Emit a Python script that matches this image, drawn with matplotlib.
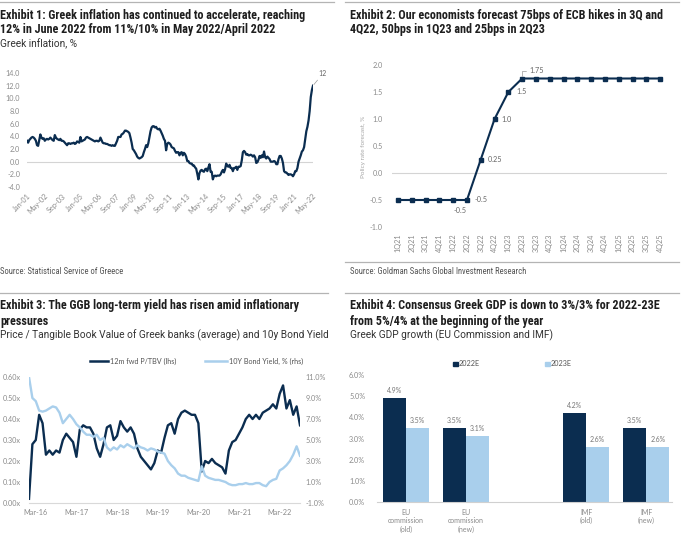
import matplotlib
matplotlib.use('Agg')
import matplotlib.pyplot as plt
from matplotlib.patches import Rectangle
import numpy as np

W, H = 694, 539
DARK = '#0b2d50'
LIGHT = '#a9cfec'
GRAY = '#8a8a8a'
RULE = '#b4b4b4'
TITLE_FONT = ['Roboto Condensed', 'Archivo Narrow', 'Liberation Sans Narrow', 'Roboto', 'DejaVu Sans']
BODY_FONT = ['Roboto', 'DejaVu Sans']
plt.rcParams['font.family'] = ['Lato', 'DejaVu Sans']

# ---- Exhibit 1: Greek inflation, monthly Jan-01 .. Jun-22
y2001 = [3.3, 3.0, 3.4, 3.6, 3.8, 3.9, 3.8, 3.6, 3.3, 2.6, 2.5, 3.4]
y2002 = [4.3, 3.8, 3.6, 3.7, 3.3, 3.5, 3.6, 3.5, 3.6, 3.8, 3.6, 3.4]
y2003 = [3.3, 4.2, 3.8, 3.6, 3.5, 3.4, 3.6, 3.3, 3.3, 3.2, 3.0, 2.8]
y2004 = [2.6, 2.9, 2.9, 2.8, 2.9, 2.9, 3.0, 2.8, 2.9, 3.2, 3.1, 3.0]
y2005 = [3.9, 3.2, 3.3, 3.4, 3.5, 3.8, 3.9, 3.8, 3.7, 3.6, 3.5, 3.4]
y2006 = [3.3, 3.2, 3.3, 3.3, 3.2, 3.3, 3.8, 3.4, 3.0, 2.9, 2.9, 2.8]
y2007 = [2.8, 2.7, 2.6, 2.6, 2.5, 2.6, 2.5, 2.5, 2.9, 3.3, 3.9, 3.9]
y2008 = [3.9, 4.3, 4.4, 4.6, 4.9, 4.9, 4.8, 4.7, 4.5, 3.8, 3.0, 2.0]
y2009 = [1.8, 1.5, 1.2, 0.8, 0.6, 0.5, 0.6, 0.7, 0.9, 1.5, 2.0, 2.6]
y2010 = [2.3, 2.9, 3.9, 4.8, 5.4, 5.6, 5.6, 5.4, 5.5, 5.2, 5.1, 5.2]
y2011 = [4.9, 4.5, 4.1, 3.6, 3.3, 1.8, 2.8, 3.0, 2.9, 2.7, 2.3, 2.2]
y2012 = [2.1, 1.7, 1.4, 1.5, 1.5, 1.0, 1.4, 1.5, 1.0, 1.4, 1.2, 0.8]
y2013 = [0.1, 0.1, -0.2, -0.3, -0.3, -0.6, -0.6, -0.9, -1.1, -1.9, -2.8, -1.8]
y2014 = [-1.4, -1.3, -1.5, -1.6, -1.2, -1.1, -1.5, -0.9, -0.4, -1.6, -1.6, -2.8]
y2015 = [-2.3, -2.2, -2.3, -2.2, -2.2, -2.2, -2.0, -1.6, -1.3, -1.7, -1.2, -0.3]
y2016 = [-0.7, -0.8, -0.5, -1.0, -1.0, -1.5, -1.0, -1.0, -0.8, -1.3, -0.8, -0.8]
y2017 = [-0.7, 0.2, 1.5, 1.7, 1.5, 1.1, 1.2, 1.0, 1.0, 1.1, 1.0, 0.8]
y2018 = [1.0, 0.7, -0.2, -0.1, 0.3, 0.9, 0.6, 1.0, 0.7, 1.6, 0.7, 0.5]
y2019 = [0.8, 0.6, 0.4, 0.0, 0.0, 0.0, 0.1, 0.0, -0.4, -0.4, 0.4, 0.9]
y2020 = [0.9, 0.5, -0.2, -1.5, -1.7, -1.7, -1.9, -2.1, -2.0, -2.0, -2.1, -2.3]
y2021 = [-2.0, -1.5, -1.5, -1.0, 0.0, 0.5, 1.0, 1.6, 1.8, 2.3, 3.5, 4.8]
y2022 = [5.5, 6.5, 8.0, 10.2, 11.3, 12.0]
infl_ticks = ['Jan-01', 'May-02', 'Sep-03', 'Jan-05', 'May-06', 'Sep-07', 'Jan-09',
              'May-10', 'Sep-11', 'Jan-13', 'May-14', 'Sep-15', 'Jan-17', 'May-18',
              'Sep-19', 'Jan-21', 'May-22']

# ---- Exhibit 2: ECB policy rate forecast
quarters = ['1Q21', '2Q21', '3Q21', '4Q21', '1Q22', '2Q22', '3Q22', '4Q22', '1Q23', '2Q23',
            '3Q23', '4Q23', '1Q24', '2Q24', '3Q24', '4Q24', '1Q25', '2Q25', '3Q25', '4Q25']
policy_rate = [-0.5, -0.5, -0.5, -0.5, -0.5, -0.5, 0.25, 1.0, 1.5, 1.75,
               1.75, 1.75, 1.75, 1.75, 1.75, 1.75, 1.75, 1.75, 1.75, 1.75]

# ---- Exhibit 3: P/TBV and 10y yield, monthly Jan-16 .. Sep-22
p_tbv = [0.02, 0.28, 0.30, 0.42, 0.38, 0.23, 0.25, 0.23, 0.25, 0.24, 0.30, 0.33,
         0.31, 0.29, 0.22, 0.35, 0.37, 0.36, 0.36, 0.33, 0.26, 0.22, 0.28, 0.36,
         0.37, 0.30, 0.32, 0.39, 0.36, 0.34, 0.36, 0.33, 0.26, 0.22, 0.20, 0.18,
         0.16, 0.19, 0.25, 0.24, 0.31, 0.37, 0.38, 0.33, 0.40, 0.43, 0.44, 0.43,
         0.42, 0.42, 0.38, 0.15, 0.20, 0.19, 0.21, 0.19, 0.18, 0.17, 0.14, 0.25,
         0.29, 0.30, 0.33, 0.36, 0.40, 0.42, 0.40, 0.42, 0.40, 0.43, 0.44, 0.45,
         0.47, 0.45, 0.52, 0.56, 0.45, 0.49, 0.42, 0.46, 0.37]
bond_yield = [11.0, 9.0, 8.7, 7.8, 7.7, 7.8, 8.0, 8.2, 8.1, 7.6, 6.6, 7.0,
              7.4, 7.0, 6.5, 6.2, 5.8, 5.5, 5.5, 5.3, 5.5, 5.0, 5.2, 4.3,
              4.0, 4.3, 4.1, 4.5, 4.3, 4.6, 4.4, 4.2, 4.5, 4.3, 4.2, 4.0,
              4.2, 4.1, 3.9, 3.8, 3.7, 3.0, 2.6, 2.3, 1.8, 1.6, 1.6, 1.4,
              1.3, 1.2, 1.1, 2.5, 1.6, 1.4, 1.3, 1.2, 1.2, 1.1, 1.0, 0.8,
              0.7, 0.7, 0.8, 0.8, 0.9, 0.8, 0.8, 0.9, 0.9, 0.7, 0.6, 1.0,
              1.2, 1.3, 2.1, 2.3, 2.6, 3.0, 3.6, 4.4, 3.5]
year_ticks = ['Mar-16', 'Mar-17', 'Mar-18', 'Mar-19', 'Mar-20', 'Mar-21', 'Mar-22']

# ---- Exhibit 4: GDP growth forecasts
gdp_cats = ['EU\ncommission\n(old)', 'EU\ncommission\n(new)', 'IMF\n(old)', 'IMF\n(new)']
gdp_2022 = [4.9, 3.5, 4.2, 3.5]
gdp_2023 = [3.5, 3.1, 2.6, 2.6]


fig = plt.figure(figsize=(W / 100, H / 100), dpi=100)
canvas = fig.add_axes([0, 0, 1, 1])
canvas.set_xlim(0, W)
canvas.set_ylim(H, 0)
canvas.axis('off')


def px_axes(x0, y0, x1, y1):
    return fig.add_axes([x0 / W, 1 - y1 / H, (x1 - x0) / W, (y1 - y0) / H])


def clean(ax):
    for s in ax.spines.values():
        s.set_visible(False)
    ax.patch.set_visible(False)
    ax.tick_params(length=0, labelsize=5.2, labelcolor=GRAY)


def title(x, y, s):
    canvas.text(x, y, s, fontsize=8.7, fontweight='bold', family=TITLE_FONT,
                color='#1e1e1e', va='center')


def subtitle(x, y, s):
    canvas.text(x, y, s, fontsize=7.3, family=BODY_FONT, color='#333333', va='center')


def source(x, y, s):
    canvas.text(x, y, s, fontsize=6.2, family=TITLE_FONT, color='#555555', va='center')


# rules
for x0, x1, y in [(0, 334, 1.5), (345, 679, 1.5), (0, 328, 293), (345, 679, 293), (345, 679, 262)]:
    canvas.plot([x0, x1], [y, y], color=RULE, lw=0.9)

# ---------- Exhibit 1
title(0, 15, 'Exhibit 1: Greek inflation has continued to accelerate, reaching')
title(0, 30, '12% in June 2022 from 11%/10% in May 2022/April 2022')
subtitle(0, 44, 'Greek inflation, %')
source(0, 272, 'Source: Statistical Service of Greece')

infl = np.array(y2001 + y2002 + y2003 + y2004 + y2005 + y2006 + y2007 + y2008 + y2009 +
                y2010 + y2011 + y2012 + y2013 + y2014 + y2015 + y2016 + y2017 + y2018 +
                y2019 + y2020 + y2021 + y2022)
months = np.arange(len(infl))
ax1 = px_axes(27, 73, 313, 187)
clean(ax1)
ax1.axhline(0, color='#d4d4d4', lw=0.8, zorder=0)
ax1.plot(months, infl, color=DARK, lw=1.6, solid_joinstyle='round')
ax1.set_xlim(0, len(infl) - 1)
ax1.set_ylim(-4, 14)
ax1.set_yticks(np.arange(-4, 15, 2))
ax1.set_yticklabels([f'{v:.1f}' for v in np.arange(-4, 15, 2)])
ax1.set_xticks(np.arange(0, len(infl), 16))
ax1.set_xticklabels(infl_ticks, rotation=45, ha='right', rotation_mode='anchor')
ax1.tick_params(axis='y', pad=5)
ax1.tick_params(axis='x', pad=4)
ax1.annotate('12', xy=(months[-1], infl[-1]), xytext=(4, 6), textcoords='offset points',
             fontsize=5, color='#666666', va='bottom', ha='left',
             arrowprops=dict(arrowstyle='-', color='#999999', lw=0.5, shrinkA=0, shrinkB=1))

# ---------- Exhibit 2
title(350, 15, 'Exhibit 2: Our economists forecast 75bps of ECB hikes in 3Q and')
title(350, 30, '4Q22, 50bps in 1Q23 and 25bps in 2Q23')
source(350, 272, 'Source: Goldman Sachs Global Investment Research')

ax2 = px_axes(392, 65, 667, 227)
clean(ax2)
xq = np.arange(len(quarters))
ax2.axhline(0, color='#d4d4d4', lw=0.8, zorder=0)
ax2.plot(xq, policy_rate, '-s', color=DARK, lw=1.5, ms=3.4, clip_on=False)
ax2.set_xlim(-0.435, 19.5)
ax2.set_ylim(-1, 2)
ax2.set_yticks(np.arange(-1, 2.01, 0.5))
ax2.set_yticklabels([f'{v:.1f}' for v in np.arange(-1, 2.01, 0.5)])
ax2.set_xticks(xq)
ax2.set_xticklabels(quarters, rotation=90, va='top')
ax2.tick_params(axis='y', pad=6.5)
ax2.tick_params(axis='x', pad=4.5)
canvas.text(364, 147, 'Policy rate forecast, %', rotation=90, fontsize=4.6,
            color='#a6a6a6', ha='center', va='center')
lab = dict(fontsize=5.2, color='#666666', textcoords='offset points', va='center')
ax2.annotate('-0.5', xy=(4.5, policy_rate[5]), xytext=(0, -7.5), ha='center', **lab)
ax2.annotate('-0.5', xy=(5, policy_rate[5]), xytext=(5.5, 0), ha='left', **lab)
ax2.annotate('0.25', xy=(6, policy_rate[6]), xytext=(5, 0), ha='left', **lab)
ax2.annotate('1.0', xy=(7, policy_rate[7]), xytext=(5, 0), ha='left', **lab)
ax2.annotate('1.5', xy=(8, policy_rate[8]), xytext=(5.5, 0), ha='left', **lab)
ax2.annotate('1.75', xy=(9, policy_rate[9]), xytext=(5, 5.5), ha='left', **lab,
             arrowprops=dict(arrowstyle='-', color='#999999', lw=0.5, shrinkA=0, shrinkB=2,
                             connectionstyle='angle,angleA=0,angleB=90,rad=0'))

# ---------- Exhibit 3
title(0, 306, 'Exhibit 3: The GGB long-term yield has risen amid inflationary')
title(0, 322, 'pressures')
subtitle(0, 335, 'Price / Tangible Book Value of Greek banks (average) and 10y Bond Yield')

mi = np.arange(len(p_tbv))
ax3 = px_axes(29, 377, 300, 503)
clean(ax3)
ax3.spines['bottom'].set_visible(True)
ax3.spines['bottom'].set_color('#d9d9d9')
ax3.spines['bottom'].set_linewidth(0.8)
ax3.plot(mi, p_tbv, color=DARK, lw=1.7)
ax3.set_xlim(0, len(p_tbv) - 1)
ax3.set_ylim(0, 0.6)
ax3.set_yticks(np.arange(0, 0.61, 0.1))
ax3.set_yticklabels([f'{v:.2f}x' for v in np.arange(0, 0.61, 0.1)])
ax3.set_xticks(np.arange(2, len(p_tbv), 12))
ax3.set_xticklabels(year_ticks)
ax3.tick_params(axis='y', pad=6)
ax3.tick_params(axis='x', pad=4)
ax3r = ax3.twinx()
clean(ax3r)
ax3r.plot(mi, bond_yield, color=LIGHT, lw=1.7)
ax3r.set_ylim(-1, 11)
ax3r.set_yticks(np.arange(-1, 11.1, 2))
ax3r.set_yticklabels([f'{v:.1f}%' for v in np.arange(-1, 11.1, 2)])
ax3r.tick_params(axis='y', pad=4)

canvas.plot([90, 108], [361, 361], color=DARK, lw=1.8)
canvas.text(110, 361, '12m fwd P/TBV (lhs)', fontsize=5.2, color='#555555', va='center')
canvas.plot([205, 227], [361, 361], color=LIGHT, lw=1.8)
canvas.text(229, 361, '10Y Bond Yield, % (rhs)', fontsize=5.2, color='#555555', va='center')

# ---------- Exhibit 4
title(350, 305, 'Exhibit 4: Consensus Greek GDP is down to 3%/3% for 2022-23E')
title(350, 322, 'from 5%/4% at the beginning of the year')
subtitle(350, 335, 'Greek GDP growth (EU Commission and IMF)')

cat_pos = np.array([0, 1, 3, 4])
bw = 0.385
ax4 = px_axes(377, 375, 672, 502)
clean(ax4)
ax4.spines['bottom'].set_visible(True)
ax4.spines['bottom'].set_color('#d0d0d0')
ax4.spines['bottom'].set_linewidth(0.8)
b1 = ax4.bar(cat_pos - bw / 2, gdp_2022, bw, color=DARK)
b2 = ax4.bar(cat_pos + bw / 2, gdp_2023, bw, color=LIGHT)
for bars, vals in [(b1, gdp_2022), (b2, gdp_2023)]:
    for b, v in zip(bars, vals):
        ax4.annotate(f'{v:.1f}%', xy=(b.get_x() + b.get_width() / 2, v), xytext=(0, 3),
                     textcoords='offset points', ha='center', va='bottom',
                     fontsize=5, color='#777777')
ax4.set_xlim(-0.48, 4.43)
ax4.set_ylim(0, 6)
ax4.set_yticks(np.arange(0, 6.1, 1))
ax4.set_yticklabels([f'{v:.1f}%' for v in np.arange(0, 6.1, 1)])
ax4.set_xticks(cat_pos)
ax4.set_xticklabels(gdp_cats, linespacing=1.2)
ax4.tick_params(axis='y', pad=8.5)
ax4.tick_params(axis='x', pad=5, labelsize=5)

canvas.add_patch(Rectangle((453.5, 361.5), 4.5, 4.5, color=DARK))
canvas.text(459, 364, '2022E', fontsize=5.2, color='#555555', va='center')
canvas.add_patch(Rectangle((545.5, 361.5), 4.5, 4.5, color=LIGHT))
canvas.text(551, 364, '2023E', fontsize=5.2, color='#555555', va='center')

fig.savefig('out.png', dpi=100)
